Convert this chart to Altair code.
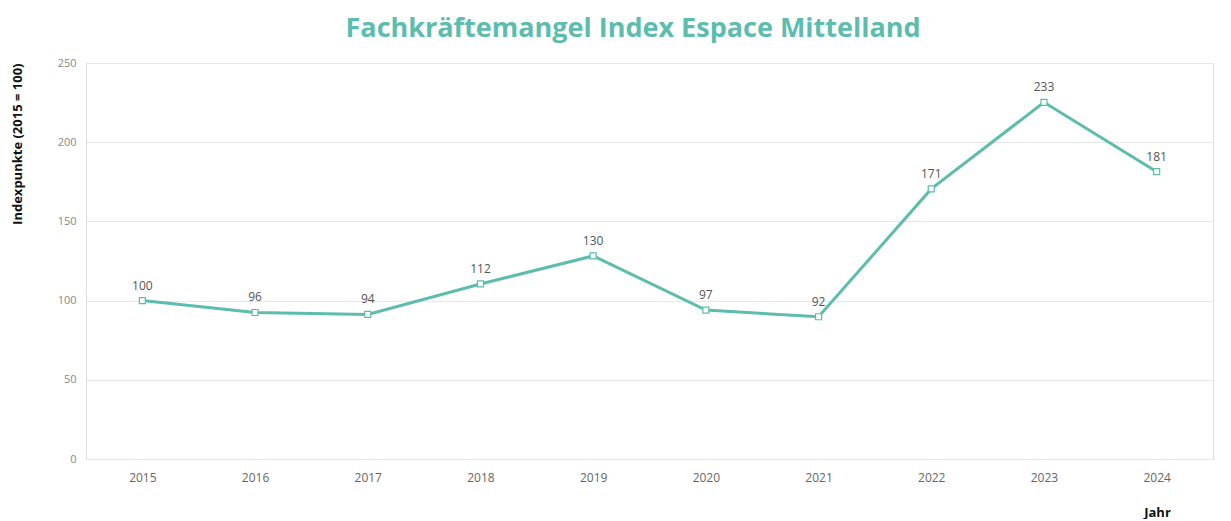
import altair as alt
import pandas as pd

years = ["2015", "2016", "2017", "2018", "2019", "2020", "2021", "2022", "2023", "2024"]
plotted = [100, 92.5, 91.3, 110.5, 128.2, 94, 89.8, 170.5, 225.2, 181.4]
labels = ["100", "96", "94", "112", "130", "97", "92", "171", "233", "181"]

df = pd.DataFrame({"Jahr": years, "Wert": plotted, "Label": labels})

TEAL = "#5cbdae"
FONT = "Open Sans"

x = alt.X("Jahr:O", sort=years,
          scale=alt.Scale(type="point", padding=0.5),
          axis=alt.Axis(title="Jahr", labelAngle=0, labelColor="#666666", labelFontSize=12,
                        labelFont=FONT, labelPadding=13, ticks=False, domain=False, grid=False,
                        titleFont=FONT, titleFontSize=13, titleFontWeight="bold",
                        titleColor="#111111", titleX=1071, titleY=53, titleAlign="center",
                        titleBaseline="middle"))
y = alt.Y("Wert:Q",
          scale=alt.Scale(domain=[0, 250], nice=False),
          axis=alt.Axis(title="Indexpunkte (2015 = 100)", values=[0, 50, 100, 150, 200, 250],
                        labelColor="#888888", labelFontSize=11, labelFont=FONT,
                        labelPadding=10, ticks=False, domain=False, gridColor="#e6e6e6",
                        titleFont=FONT, titleFontSize=13, titleFontWeight="bold",
                        titleColor="#111111", titleAnchor="end", titlePadding=33))

base = alt.Chart(df).encode(x=x, y=y)

line = base.mark_line(color=TEAL, strokeWidth=3)
pts = base.mark_point(shape="square", filled=True, fill="white", stroke=TEAL,
                      strokeWidth=1.2, size=36, opacity=1)
txt = base.mark_text(dy=-15, fontSize=12, font=FONT, color="#555555").encode(text="Label:N")

chart = (line + pts + txt).properties(
    width=1127, height=396,
    autosize=alt.AutoSizeParams(type="none"),
    padding={"left": 78, "top": 55, "right": 10, "bottom": 60},
    title=alt.TitleParams("Fachkräftemangel Index Espace Mittelland", font=FONT,
                          fontSize=27, fontWeight="bold", color=TEAL, anchor="middle",
                          offset=14, dx=21, frame="bounds"),
).configure_view(strokeWidth=0, stroke=None).configure(background="white")

chart.save("out.html", embed_options={"renderer": "svg", "actions": False})
